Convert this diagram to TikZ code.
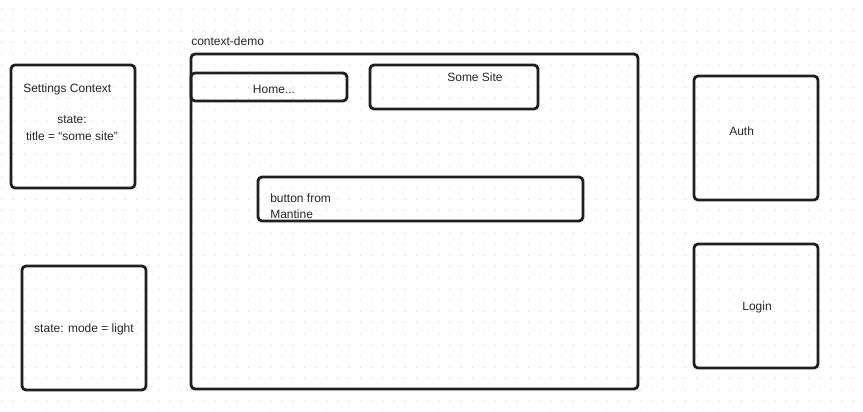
\documentclass[tikz,border=0pt]{standalone}
\usepackage{fontspec}
\setmainfont{Liberation Sans}
\begin{document}
\begin{tikzpicture}[x=0.75pt,y=-0.75pt,
  box/.style={draw=black!88,line width=2.1pt,rounded corners=3pt},
  lbl/.style={font=\fontsize{9pt}{10.5pt}\selectfont,text=black!85,inner sep=0pt},
  gdot/.style={fill=black!22}]
\useasboundingbox[fill=white] (0,0) rectangle (863,411);
% dotted grid
\foreach \i in {0,...,77}{
  \foreach \j in {0,...,36}{
    \fill[gdot] (2+\i*11.2,9+\j*11.2) circle[radius=0.55];
  }
}
% boxes
\draw[box] (11,65) rectangle (135,188);
\draw[box] (22,266) rectangle (146,390);
\draw[box] (191,54) rectangle (638,389);
\draw[box] (191,73) rectangle (347,101);
\draw[box] (370,65) rectangle (538,109);
\draw[box] (258,177) rectangle (583,221);
\draw[box] (694,76) rectangle (818,200);
\draw[box] (694,244) rectangle (818,368);
% labels
\node[lbl,anchor=west] (sc) at (23,89) {Settings Context};
\node[lbl] (st) at (72,120) {state:};
\node[lbl] (tt) at (72,136) {title = “some site”};
\node[lbl] (md) at (84,329) {state: mode = light};
\node[lbl,anchor=west] (cd) at (191,41) {context-demo};
\node[lbl] (hm) at (274,89) {Home...};
\node[lbl] (ss) at (475,77) {Some Site};
\node[lbl,anchor=west] (b1) at (270,198) {button from};
\node[lbl,anchor=west] (b2) at (270,214) {Mantine};
\node[lbl,anchor=west] (au) at (729,131) {Auth};
\node[lbl] (lg) at (757,307) {Login};
\end{tikzpicture}
\end{document}
